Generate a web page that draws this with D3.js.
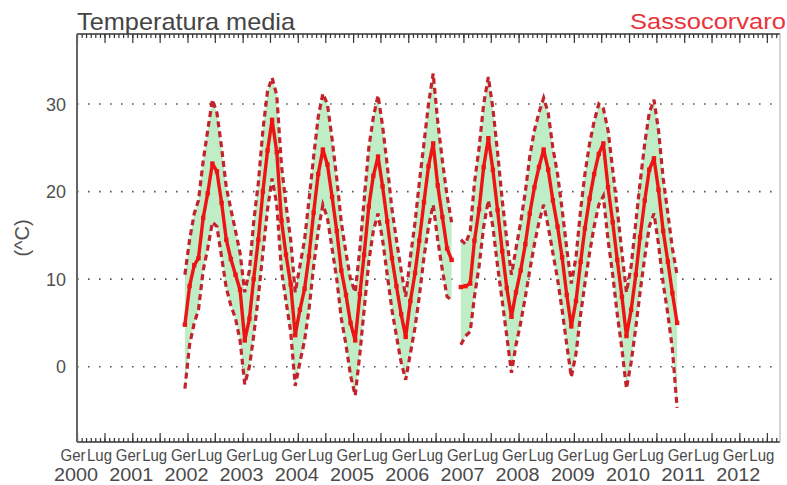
<!DOCTYPE html>
<html><head><meta charset="utf-8">
<script src="https://cdn.jsdelivr.net/npm/d3@7"></script>
<style>
html,body{margin:0;padding:0;background:#fff;}
svg{display:block;}
text{font-family:"Liberation Sans",Arial,Helvetica,sans-serif;}
</style></head><body>
<svg id="chart" width="787" height="485"></svg>
<script>
// ---------- data ----------
const chartTitle = "Temperatura media";
const stationName = "Sassocorvaro";
const yAxisLabel = "(^C)";
const yTickValues = [0, 10, 20, 30];
const monthTickLabels = ["Ger", "Lug"];
const yearLabels = [2000, 2001, 2002, 2003, 2004, 2005, 2006, 2007, 2008, 2009, 2010, 2011, 2012];
const firstMonth = "2001-12"; // first monthly value (December 2001)

// monthly mean temperature (°C), Dec 2001 .. Nov 2010 (null = missing)
const tMean = [
  4.8,
  9.2, 11.6, 12.4, 17.0, 19.8, 23.2, 22.3, 18.7, 14.5, 12.3, 10.5, 8.8,
  3.0, 5.5, 10.0, 14.5, 20.0, 24.7, 28.2, 24.5, 16.7, 12.8, 9.4, 3.6,
  6.5, 8.9, 12.6, 17.6, 22.0, 24.8, 23.1, 19.4, 15.5, 11.0, 8.2, 5.0,
  3.0, 8.3, 12.8, 18.3, 21.8, 24.0, 20.6, 16.6, 12.4, 9.2, 6.0, 3.4,
  7.5, 10.7, 14.4, 18.8, 22.9, 25.5, 20.7, 17.1, 13.5, 12.2, null, 9.1,
  9.2, 9.5, 14.4, 18.0, 22.8, 26.1, 22.5, 17.9, 13.2, 9.0, 5.7, 8.5,
  11.0, 14.0, 17.5, 20.5, 22.8, 24.8, 22.5, 19.0, 16.0, 12.5, 8.2, 4.6,
  7.5, 12.0, 15.8, 19.2, 22.0, 24.3, 25.5, 20.5, 16.5, 12.2, 8.0, 3.5,
  6.5, 10.5, 14.8, 19.0, 22.5, 23.8, 20.2, 15.5, 12.0, 8.4, 5.0
];
// monthly maximum
const tMax = [
  10.5,
  14.5, 17.5, 19.0, 23.5, 27.0, 30.5, 29.0, 25.0, 20.5, 18.0, 15.5, 13.0,
  8.5, 11.0, 16.5, 21.0, 27.0, 31.5, 33.0, 31.0, 23.0, 18.5, 14.5, 8.5,
  11.5, 14.5, 19.0, 24.0, 28.5, 31.2, 30.0, 26.0, 21.5, 16.5, 13.0, 10.0,
  8.5, 13.5, 19.0, 25.0, 28.5, 31.0, 27.5, 23.0, 18.0, 14.5, 11.0, 8.0,
  12.5, 16.5, 21.0, 25.5, 30.0, 33.5, 28.0, 23.5, 19.5, 16.5, null, 14.5,
  14.0, 15.5, 21.0, 25.0, 30.0, 33.1, 29.5, 24.5, 19.0, 14.5, 10.5, 13.5,
  16.5, 20.0, 24.0, 27.0, 29.0, 30.7, 29.0, 25.0, 22.0, 18.0, 13.5, 9.5,
  12.5, 18.0, 22.0, 25.5, 28.0, 30.0, 29.5, 27.0, 22.5, 18.0, 13.0, 8.5,
  11.5, 16.5, 21.0, 25.5, 29.0, 30.5, 27.0, 21.5, 17.5, 13.5, 10.5
];
// monthly minimum
const tMin = [
  -2.5,
  2.5, 5.0, 6.5, 11.0, 13.5, 16.5, 16.0, 12.5, 9.0, 7.0, 5.5, 3.0,
  -2.0, 0.0, 3.5, 8.0, 13.0, 18.0, 21.5, 18.5, 11.0, 7.5, 4.0, -2.2,
  0.5, 3.0, 6.5, 11.5, 15.5, 18.5, 17.0, 13.5, 10.0, 5.5, 2.5, -1.0,
  -3.3, 1.5, 6.5, 12.0, 15.5, 17.5, 14.5, 10.5, 6.5, 3.5, 0.5, -1.5,
  1.5, 4.5, 8.0, 12.5, 16.0, 18.5, 14.5, 11.0, 8.0, 7.6, null, 2.5,
  3.5, 4.0, 8.0, 11.5, 16.0, 19.0, 16.0, 11.5, 7.5, 3.5, -0.7, 2.5,
  5.0, 8.0, 11.0, 14.0, 16.5, 18.5, 16.0, 13.0, 10.0, 6.5, 2.5, -1.2,
  1.5, 6.0, 9.5, 13.0, 16.0, 18.5, 19.5, 14.5, 10.5, 6.0, 2.0, -2.5,
  0.5, 4.5, 8.5, 12.5, 16.0, 17.5, 14.0, 9.5, 6.0, 2.0, -4.7
];

// ---------- layout ----------
const W = 787, H = 485;
const pLeft = 77, pRight = 780, pTop = 34, pBottom = 442;

const svg = d3.select("#chart");
svg.append("rect").attr("width", W).attr("height", H).attr("fill", "#fff");

const x = d3.scaleUtc()
  .domain([new Date(Date.UTC(2000, 0, 1)), new Date(Date.UTC(2012, 8, 26))])
  .range([pLeft, pRight]);
const y = d3.scaleLinear().domain([-8.6, 38.0]).range([pBottom, pTop]);

const start = d3.utcParse("%Y-%m")(firstMonth);
const records = tMean.map((v, i) => {
  const m = d3.utcMonth.offset(start, i);
  return {
    date: new Date(Date.UTC(m.getUTCFullYear(), m.getUTCMonth(), 15)),
    mean: v, max: tMax[i], min: tMin[i]
  };
});

// grid
svg.append("g").selectAll("line").data(yTickValues).join("line")
  .attr("x1", pLeft).attr("x2", pRight)
  .attr("y1", d => y(d)).attr("y2", d => y(d))
  .attr("stroke", "#555").attr("stroke-width", 1.6)
  .attr("stroke-dasharray", "1.6,9.4");

// band
const area = d3.area()
  .defined(d => d.min != null && d.max != null)
  .x(d => x(d.date)).y0(d => y(d.min)).y1(d => y(d.max));
svg.append("path").datum(records).attr("d", area)
  .attr("fill", "#bfedc6");

const lineOf = key => d3.line()
  .defined(d => d[key] != null)
  .x(d => x(d.date)).y(d => y(d[key]));

["max", "min"].forEach(k => {
  svg.append("path").datum(records).attr("d", lineOf(k))
    .attr("fill", "none").attr("stroke", "#c4222c")
    .attr("stroke-width", 3.2).attr("stroke-dasharray", "6,4");
});

svg.append("path").datum(records).attr("d", lineOf("mean"))
  .attr("fill", "none").attr("stroke", "#ee1414")
  .attr("stroke-width", 3.4).attr("stroke-linejoin", "round");
svg.append("g").selectAll("rect").data(records.filter(d => d.mean != null)).join("rect")
  .attr("x", d => x(d.date) - 2.2).attr("y", d => y(d.mean) - 2.2)
  .attr("width", 4.4).attr("height", 4.4).attr("fill", "#ee1414");

// axes
const months = d3.utcMonth.range(x.domain()[0], x.domain()[1]);
const majors = months.filter(d => d.getUTCMonth() % 6 === 0);
const axisColor = "#333";

function frameAxis(gen, ty, size) {
  const g = svg.append("g").attr("transform", `translate(0,${ty})`)
    .call(gen.tickSize(size).tickFormat(""));
  g.select(".domain").remove();
  g.selectAll("line").attr("stroke", axisColor).attr("stroke-width", 1.2);
}
frameAxis(d3.axisBottom(x).tickValues(months), pBottom, -4);
frameAxis(d3.axisBottom(x).tickValues(majors), pBottom, -9);
frameAxis(d3.axisTop(x).tickValues(months), pTop, -4);
frameAxis(d3.axisTop(x).tickValues(majors), pTop, -9);

svg.append("line").attr("x1", pLeft).attr("x2", pRight).attr("y1", pBottom).attr("y2", pBottom)
  .attr("stroke", axisColor).attr("stroke-width", 1.6);
svg.append("line").attr("x1", pLeft).attr("x2", pRight).attr("y1", pTop).attr("y2", pTop)
  .attr("stroke", axisColor).attr("stroke-width", 1.6);
svg.append("line").attr("x1", pLeft).attr("x2", pLeft).attr("y1", pTop).attr("y2", pBottom)
  .attr("stroke", "#666").attr("stroke-width", 2);
svg.append("line").attr("x1", pRight).attr("x2", pRight).attr("y1", pTop).attr("y2", pBottom)
  .attr("stroke", "#aaa").attr("stroke-width", 1);

// y labels
svg.append("g").selectAll("text").data(yTickValues).join("text")
  .attr("x", 66).attr("y", d => y(d)).attr("dy", "0.36em")
  .attr("text-anchor", "end").attr("font-size", 18).attr("fill", "#505050")
  .text(d => d);

svg.append("text")
  .attr("transform", "translate(29,238) rotate(-90)")
  .attr("text-anchor", "middle").attr("font-size", 20).attr("fill", "#505050")
  .text(yAxisLabel);

// x labels
const xl = svg.append("g").attr("fill", "#4a4a4a");
yearLabels.forEach(yr => {
  const jan = x(new Date(Date.UTC(yr, 0, 1)));
  const jul = x(new Date(Date.UTC(yr, 6, 1)));
  xl.append("text").attr("x", jan - 4).attr("y", 461).attr("text-anchor", "middle")
    .attr("font-size", 17).attr("textLength", 25).attr("lengthAdjust", "spacingAndGlyphs")
    .text(monthTickLabels[0]);
  xl.append("text").attr("x", jul - 5).attr("y", 461).attr("text-anchor", "middle")
    .attr("font-size", 17).attr("textLength", 25).attr("lengthAdjust", "spacingAndGlyphs")
    .text(monthTickLabels[1]);
  xl.append("text").attr("x", jan - 1).attr("y", 481).attr("text-anchor", "middle")
    .attr("font-size", 18).attr("textLength", 44).attr("lengthAdjust", "spacingAndGlyphs")
    .text(yr);
});

// titles
svg.append("text").attr("x", 77).attr("y", 30)
  .attr("font-size", 24).attr("fill", "#444")
  .attr("textLength", 218).attr("lengthAdjust", "spacingAndGlyphs")
  .text(chartTitle);
svg.append("text").attr("x", 786).attr("y", 29).attr("text-anchor", "end")
  .attr("font-size", 22).attr("fill", "#e8343c")
  .attr("textLength", 156).attr("lengthAdjust", "spacingAndGlyphs")
  .text(stationName);
</script>
</body></html>
